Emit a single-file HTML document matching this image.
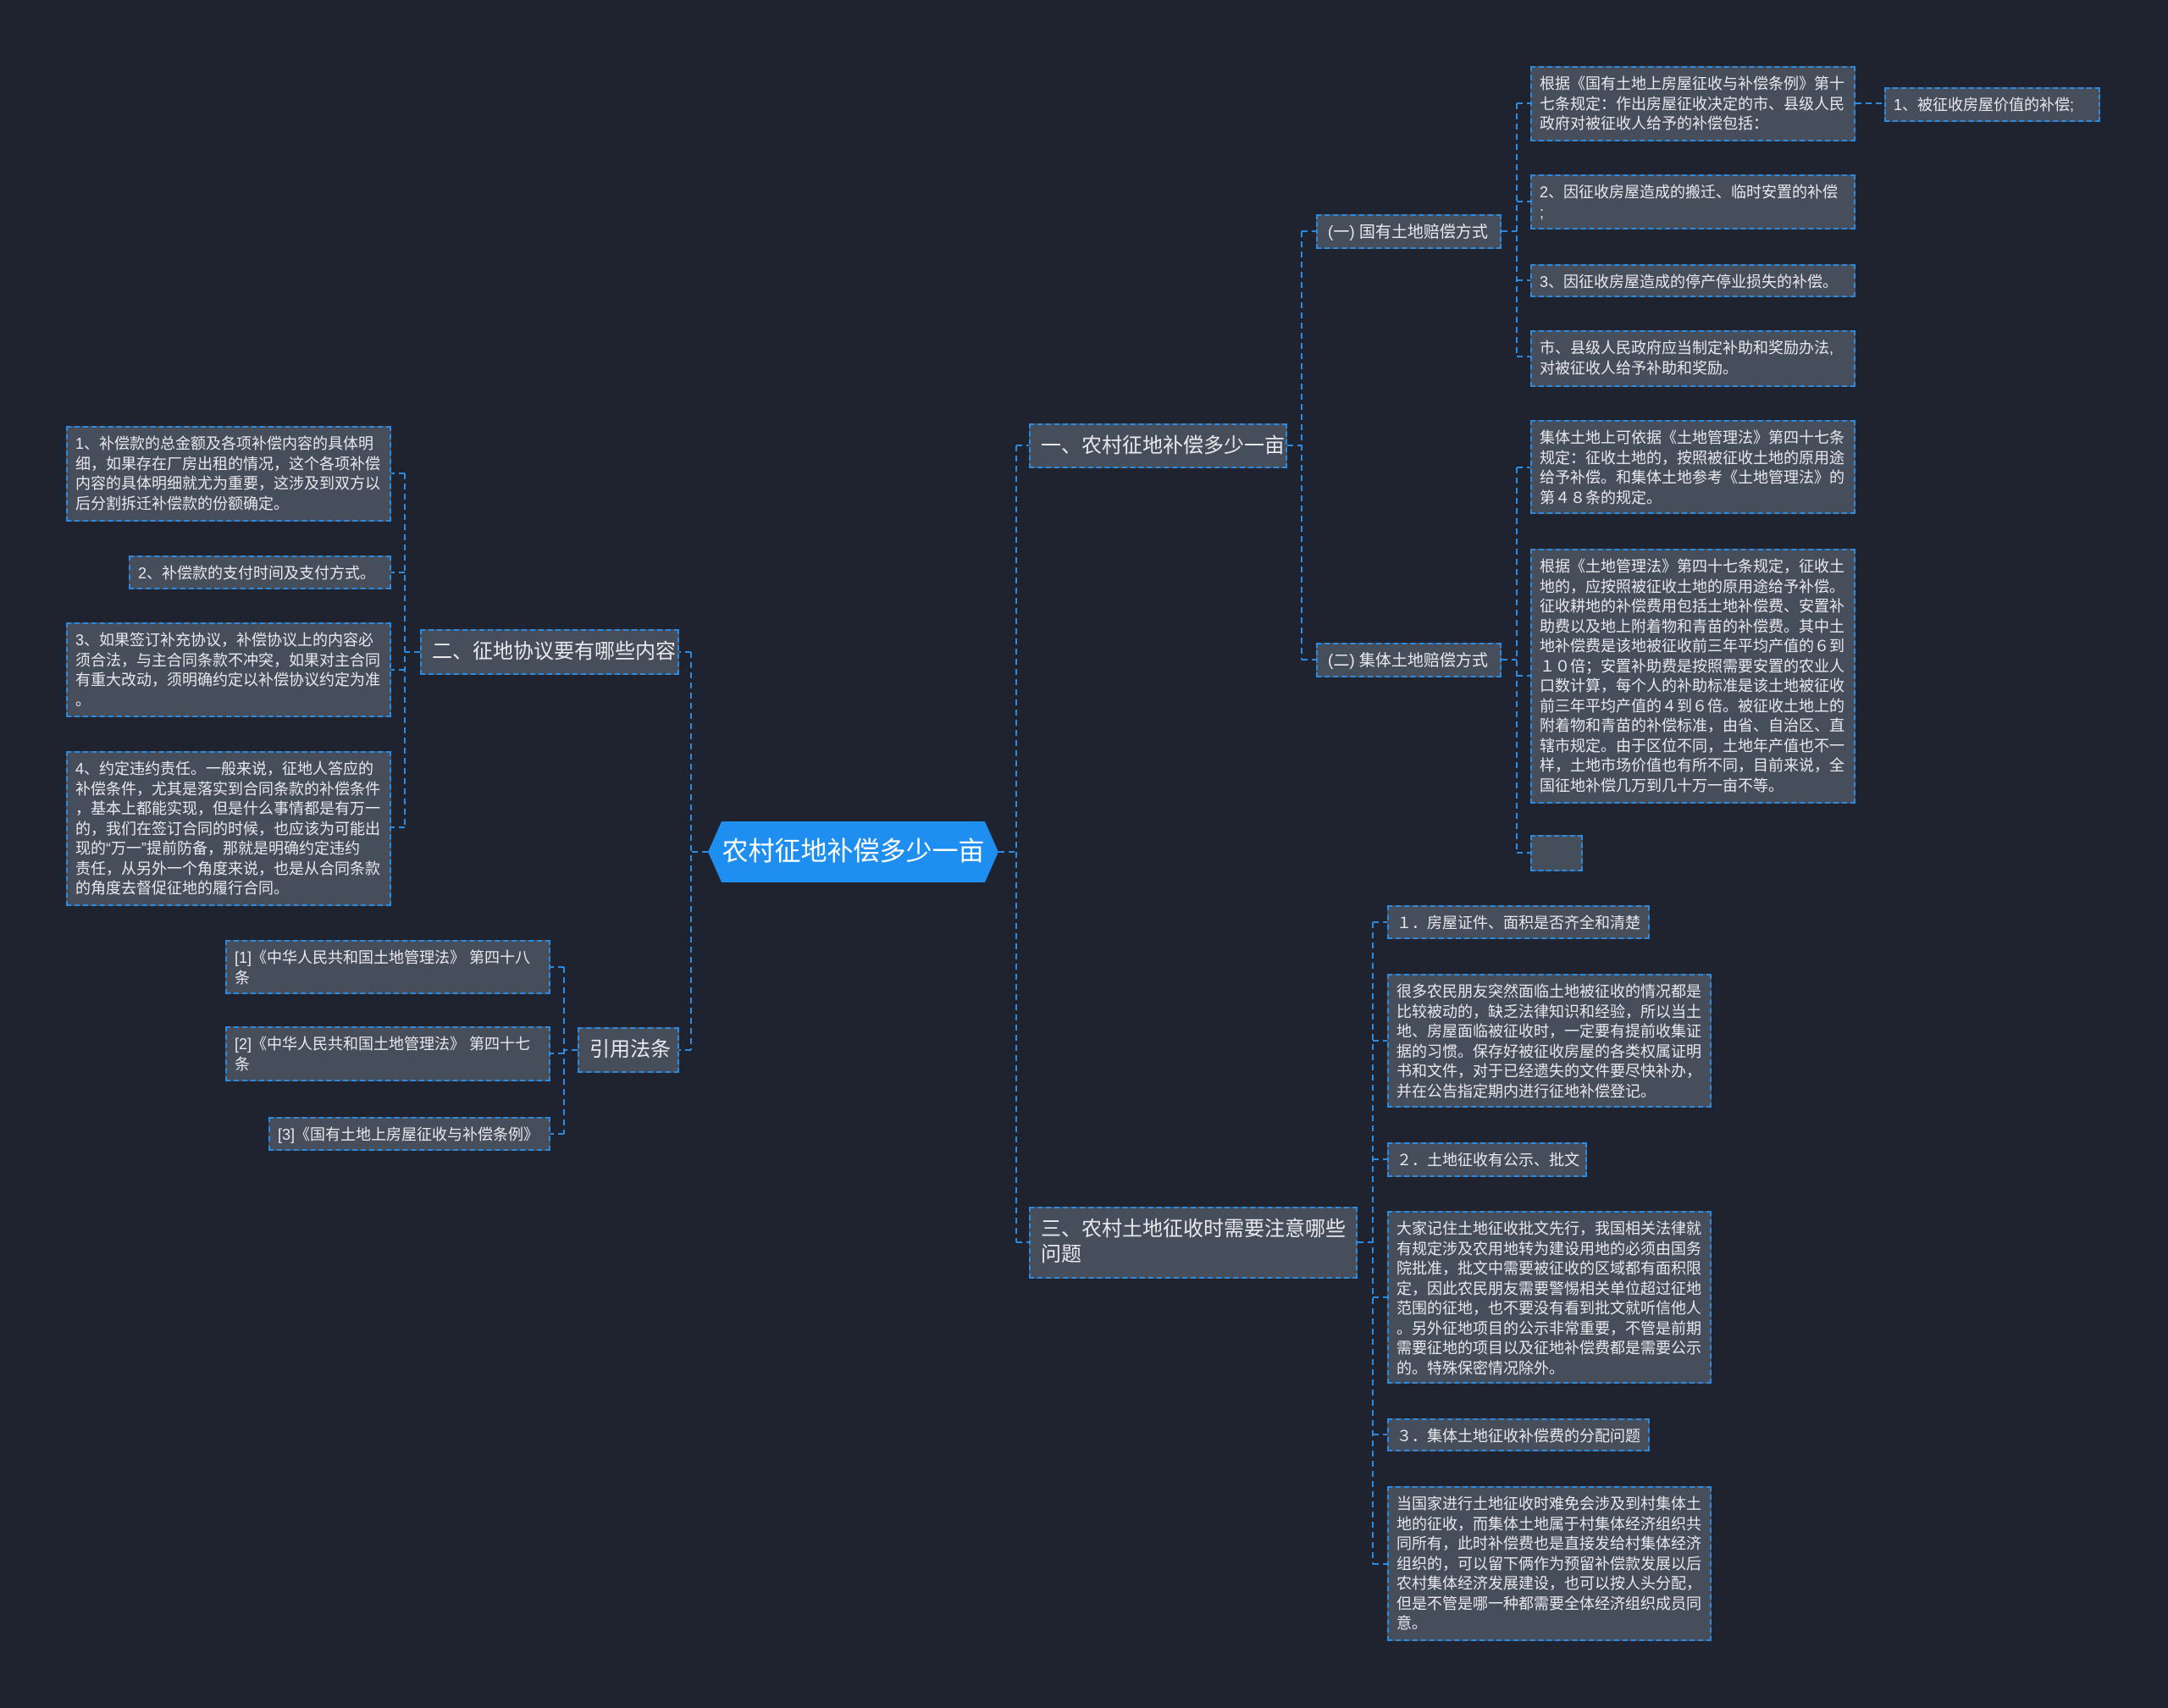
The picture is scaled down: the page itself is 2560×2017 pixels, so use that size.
<!DOCTYPE html>
<html><head><meta charset="utf-8"><style>
html,body{margin:0;padding:0;}
body{width:2560px;height:2017px;background:#1f2330;position:relative;overflow:hidden;font-family:"Liberation Sans","Noto Sans CJK SC",sans-serif;color:#e6e8ec;}
.b{position:absolute;box-sizing:border-box;background:#464d5b;border:2px dashed #2a8be0;font-size:18px;line-height:23.5px;padding:8px 9px 6px 9px;white-space:nowrap;}
.m{font-size:24px;line-height:30px;padding:10px 12px;}
.s{font-size:19px;line-height:24px;padding:8px 12px;}
svg{position:absolute;left:0;top:0;}
</style></head><body>
<svg width="2560" height="2017">
<g stroke="#2a8be0" stroke-width="2" stroke-dasharray="7,5" fill="none">
<path d="M1179 1006 H1200 M1200 526 V1467 M1200 526 H1215 M1200 1467 H1215"/>
<path d="M836 1006 H816 M816 770 V1240 M816 770 H802 M816 1240 H802"/>
<path d="M1520 526 H1537 M1537 273 V779 M1537 273 H1554 M1537 779 H1554"/>
<path d="M1773 273 H1791 M1791 122 V421 M1791 122 H1807 M1791 238 H1807 M1791 331 H1807 M1791 421 H1807"/>
<path d="M2191 122 H2225"/>
<path d="M1773 779 H1791 M1791 552 V1007 M1791 552 H1807 M1791 798 H1807 M1791 1007 H1807"/>
<path d="M496 770 H478 M478 559 V977 M478 559 H462 M478 676 H462 M478 791 H462 M478 977 H462"/>
<path d="M682 1240 H666 M666 1142 V1339 M666 1142 H650 M666 1244 H650 M666 1339 H650"/>
<path d="M1603 1467 H1621 M1621 1089 V1847 M1621 1089 H1638 M1621 1229 H1638 M1621 1369 H1638 M1621 1532 H1638 M1621 1694 H1638 M1621 1847 H1638"/>
</g>
<polygon points="852,970 1163,970 1179,1006 1163,1042 852,1042 836,1006" fill="#1e8ff0"/>
</svg>
<div style="position:absolute;left:836px;top:970px;width:343px;height:72px;line-height:72px;text-align:center;font-size:31px;color:#fff;">农村征地补偿多少一亩</div>

<div class="b m" style="left:1215px;top:500px;width:305px;height:53px;padding-top:10px;">一、农村征地补偿多少一亩</div>
<div class="b s" style="left:1554px;top:253px;width:219px;height:41px;">(一) 国有土地赔偿方式</div>
<div class="b s" style="left:1554px;top:759px;width:219px;height:41px;">(二) 集体土地赔偿方式</div>
<div class="b" style="left:1807px;top:78px;width:384px;height:89px;">根据《国有土地上房屋征收与补偿条例》第十<br>七条规定：作出房屋征收决定的市、县级人民<br>政府对被征收人给予的补偿包括：</div>
<div class="b" style="left:2225px;top:103px;width:255px;height:41px;">1、被征收房屋价值的补偿;</div>
<div class="b" style="left:1807px;top:206px;width:384px;height:65px;">2、因征收房屋造成的搬迁、临时安置的补偿<br>;</div>
<div class="b" style="left:1807px;top:312px;width:384px;height:39px;">3、因征收房屋造成的停产停业损失的补偿。</div>
<div class="b" style="left:1807px;top:390px;width:384px;height:67px;">市、县级人民政府应当制定补助和奖励办法,<br>对被征收人给予补助和奖励。</div>
<div class="b" style="left:1807px;top:496px;width:384px;height:111px;">集体土地上可依据《土地管理法》第四十七条<br>规定：征收土地的，按照被征收土地的原用途<br>给予补偿。和集体土地参考《土地管理法》的<br>第４８条的规定。</div>
<div class="b" style="left:1807px;top:648px;width:384px;height:301px;">根据《土地管理法》第四十七条规定，征收土<br>地的，应按照被征收土地的原用途给予补偿。<br>征收耕地的补偿费用包括土地补偿费、安置补<br>助费以及地上附着物和青苗的补偿费。其中土<br>地补偿费是该地被征收前三年平均产值的６到<br>１０倍；安置补助费是按照需要安置的农业人<br>口数计算，每个人的补助标准是该土地被征收<br>前三年平均产值的４到６倍。被征收土地上的<br>附着物和青苗的补偿标准，由省、自治区、直<br>辖市规定。由于区位不同，土地年产值也不一<br>样，土地市场价值也有所不同，目前来说，全<br>国征地补偿几万到几十万一亩不等。</div>
<div class="b" style="left:1807px;top:986px;width:62px;height:43px;"></div>

<div class="b m" style="left:496px;top:743px;width:306px;height:54px;">二、征地协议要有哪些内容</div>
<div class="b" style="left:78px;top:503px;width:384px;height:113px;">1、补偿款的总金额及各项补偿内容的具体明<br>细，如果存在厂房出租的情况，这个各项补偿<br>内容的具体明细就尤为重要，这涉及到双方以<br>后分割拆迁补偿款的份额确定。</div>
<div class="b" style="left:152px;top:656px;width:310px;height:40px;">2、补偿款的支付时间及支付方式。</div>
<div class="b" style="left:78px;top:735px;width:384px;height:112px;">3、如果签订补充协议，补偿协议上的内容必<br>须合法，与主合同条款不冲突，如果对主合同<br>有重大改动，须明确约定以补偿协议约定为准<br>。</div>
<div class="b" style="left:78px;top:887px;width:384px;height:183px;">4、约定违约责任。一般来说，征地人答应的<br>补偿条件，尤其是落实到合同条款的补偿条件<br>，基本上都能实现，但是什么事情都是有万一<br>的，我们在签订合同的时候，也应该为可能出<br>现的“万一”提前防备，那就是明确约定违约<br>责任，从另外一个角度来说，也是从合同条款<br>的角度去督促征地的履行合同。</div>
<div class="b m" style="left:682px;top:1213px;width:120px;height:54px;">引用法条</div>
<div class="b" style="left:266px;top:1110px;width:384px;height:64px;">[1]《中华人民共和国土地管理法》 第四十八<br>条</div>
<div class="b" style="left:266px;top:1212px;width:384px;height:65px;">[2]《中华人民共和国土地管理法》 第四十七<br>条</div>
<div class="b" style="left:317px;top:1319px;width:333px;height:40px;">[3]《国有土地上房屋征收与补偿条例》</div>

<div class="b m" style="left:1215px;top:1425px;width:388px;height:85px;padding-top:10px;">三、农村土地征收时需要注意哪些<br>问题</div>
<div class="b" style="left:1638px;top:1069px;width:310px;height:40px;">１．房屋证件、面积是否齐全和清楚</div>
<div class="b" style="left:1638px;top:1150px;width:383px;height:158px;">很多农民朋友突然面临土地被征收的情况都是<br>比较被动的，缺乏法律知识和经验，所以当土<br>地、房屋面临被征收时，一定要有提前收集证<br>据的习惯。保存好被征收房屋的各类权属证明<br>书和文件，对于已经遗失的文件要尽快补办，<br>并在公告指定期内进行征地补偿登记。</div>
<div class="b" style="left:1638px;top:1349px;width:236px;height:41px;">２．土地征收有公示、批文</div>
<div class="b" style="left:1638px;top:1430px;width:383px;height:204px;">大家记住土地征收批文先行，我国相关法律就<br>有规定涉及农用地转为建设用地的必须由国务<br>院批准，批文中需要被征收的区域都有面积限<br>定，因此农民朋友需要警惕相关单位超过征地<br>范围的征地，也不要没有看到批文就听信他人<br>。另外征地项目的公示非常重要，不管是前期<br>需要征地的项目以及征地补偿费都是需要公示<br>的。特殊保密情况除外。</div>
<div class="b" style="left:1638px;top:1675px;width:310px;height:39px;">３．集体土地征收补偿费的分配问题</div>
<div class="b" style="left:1638px;top:1755px;width:383px;height:183px;">当国家进行土地征收时难免会涉及到村集体土<br>地的征收，而集体土地属于村集体经济组织共<br>同所有，此时补偿费也是直接发给村集体经济<br>组织的，可以留下俩作为预留补偿款发展以后<br>农村集体经济发展建设，也可以按人头分配，<br>但是不管是哪一种都需要全体经济组织成员同<br>意。</div>
</body></html>
